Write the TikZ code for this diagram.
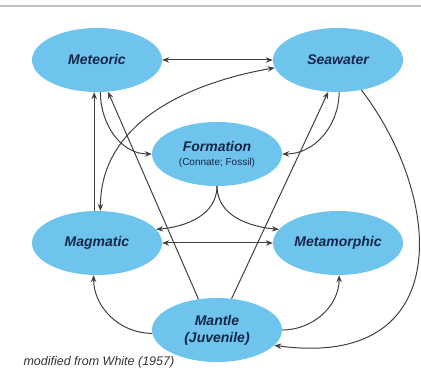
\documentclass[tikz,border=0pt]{standalone}
\usepackage{fontspec}
\setmainfont{Liberation Sans}
\usetikzlibrary{shapes.geometric,arrows.meta}
\definecolor{waterblue}{RGB}{110,196,236}
\definecolor{inknavy}{RGB}{22,38,72}

\begin{document}
\begin{tikzpicture}[x=1pt,y=1pt,
        reservoir/.style={ellipse, fill=waterblue, minimum width=130pt, minimum height=64pt, inner sep=0pt,
            text=inknavy, align=center, font=\fontsize{14}{17}\selectfont\bfseries\itshape},
        flow/.style={line width=1pt, draw=black!75, >={Stealth[length=7pt,width=5.5pt]}}]
        \useasboundingbox (0,0) rectangle (421,374);
        \draw[black!25, line width=2pt] (0,368) -- (421,368);
        % reservoirs
        \node[reservoir] (meteoric) at (97,314) {Meteoric};
        \node[reservoir] (seawater) at (338,314) {Seawater};
        \node[reservoir] (formation) at (217,220) {Formation\\[-3pt]{\fontsize{10}{11}\selectfont\mdseries\upshape (Connate; Fossil)}};
        \node[reservoir] (magmatic) at (97,131) {Magmatic};
        \node[reservoir] (metamorphic) at (338,131) {Metamorphic};
        \node[reservoir] (mantle) at (217,44) {Mantle\\(Juvenile)};
        \node[anchor=west, text=black!80, font=\fontsize{12.5}{14}\selectfont\itshape] (source) at (20,12) {modified from White (1957)};
        % exchanges
        \draw[flow, <->] (meteoric.east) -- (seawater.west);
        \draw[flow, <->] (magmatic.east) -- (metamorphic.west);
        \draw[flow, <->] (magmatic.84) to[out=90, in=190] (seawater.187);
        \draw[flow, ->] (magmatic.95) -- (meteoric.-95);
        \draw[flow, ->] (meteoric.-84) to[out=-90, in=180] (formation.west);
        \draw[flow, ->] (seawater.-88) to[out=-90, in=0] (formation.east);
        \draw[flow, ->] (formation.south) to[out=-90, in=5] (magmatic.13);
        \draw[flow, ->] (formation.south) to[out=-90, in=175] (metamorphic.167);
        \draw[flow, ->] (mantle.121) -- (meteoric.-71);
        \draw[flow, ->] (mantle.65) -- (seawater.-107);
        \draw[flow, ->] (mantle.183) to[out=180, in=-90] (magmatic.-96);
        \draw[flow, ->] (mantle.east) to[out=0, in=-90] (metamorphic.-88);
        \draw[flow, ->] (seawater.-52) .. controls (445,174) and (455,4) .. (mantle.-15);
    \end{tikzpicture}
\end{document}
